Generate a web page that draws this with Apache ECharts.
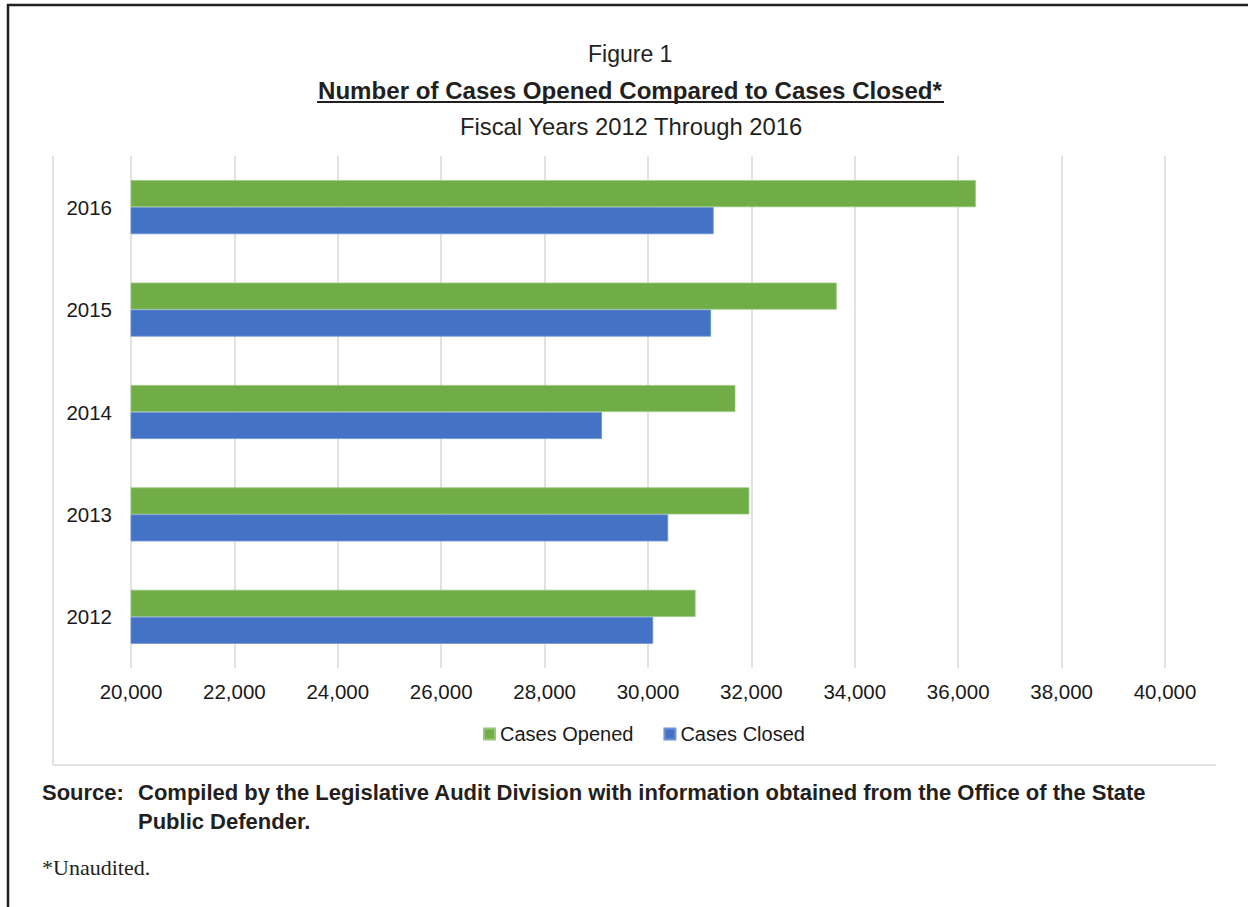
<!DOCTYPE html>
<html>
<head>
<meta charset="utf-8">
<script src="https://cdn.jsdelivr.net/npm/echarts@6/dist/echarts.min.js"></script>
<style>
html,body{margin:0;padding:0;background:#fff;}
#chart{width:1248px;height:907px;}
</style>
</head>
<body>
<div id="chart"></div>
<script>
const years = ['2012', '2013', '2014', '2015', '2016'];
const casesOpened = [30920, 31960, 31690, 33650, 36340];
const casesClosed = [30100, 30390, 29110, 31220, 31270];
const xTicks = [20000, 22000, 24000, 26000, 28000, 30000, 32000, 34000, 36000, 38000, 40000];

const SANS = '"Liberation Sans", Arial, Helvetica, sans-serif';
const chart = echarts.init(document.getElementById('chart'), null, {renderer: 'svg'});

chart.setOption({
  backgroundColor: '#ffffff',
  animation: false,
  title: [
    {text: 'Figure 1', left: 583, top: 37, textStyle: {fontFamily: SANS, fontSize: 23, fontWeight: 'normal', color: '#231f20'}},
    {text: 'Number of Cases Opened Compared to Cases Closed*', left: 313, top: 73, textStyle: {fontFamily: SANS, fontSize: 24.1, fontWeight: 'bold', color: '#231f20'}},
    {text: 'Fiscal Years 2012 Through 2016', left: 455, top: 109, textStyle: {fontFamily: SANS, fontSize: 23.8, fontWeight: 'normal', color: '#231f20'}}
  ],
  legend: {
    data: ['Cases Opened', 'Cases Closed'],
    left: 478,
    top: 719,
    itemWidth: 11,
    itemHeight: 11,
    itemGap: 30,
    icon: 'rect',
    textStyle: {fontFamily: SANS, fontSize: 20, color: '#1a1a1a'}
  },
  grid: {left: 131, right: 83, top: 156, bottom: 239, containLabel: false},
  xAxis: {
    type: 'value',
    min: 20000,
    max: 40000,
    interval: 2000,
    axisLine: {show: false},
    axisTick: {show: false},
    splitLine: {show: true, lineStyle: {color: '#d9d9d9', width: 1.5}},
    axisLabel: {
      margin: 13,
      fontFamily: SANS,
      fontSize: 20.5,
      color: '#1a1a1a',
      formatter: function (v) { return xTicks.indexOf(v) >= 0 ? v.toLocaleString('en-US') : ''; }
    }
  },
  yAxis: {
    type: 'category',
    data: years,
    axisLine: {show: false},
    axisTick: {show: false},
    splitLine: {show: false},
    axisLabel: {margin: 19, fontFamily: SANS, fontSize: 20.5, color: '#1a1a1a'}
  },
  series: [
    {
      name: 'Cases Opened', type: 'bar', data: casesOpened, barWidth: 27, barGap: '0%',
      itemStyle: {color: '#70ad47', borderColor: '#97c77a', borderWidth: 0.8}
    },
    {
      name: 'Cases Closed', type: 'bar', data: casesClosed, barWidth: 27, barGap: '0%',
      itemStyle: {color: '#4472c4', borderColor: '#6f93d6', borderWidth: 0.8}
    }
  ],
  graphic: [
    {type: 'line', shape: {x1: 8, y1: 4, x2: 8, y2: 907}, style: {stroke: '#231f20', lineWidth: 2.5}},
    {type: 'line', shape: {x1: 7, y1: 5, x2: 1248, y2: 5}, style: {stroke: '#231f20', lineWidth: 2.5}},
    {type: 'line', shape: {x1: 53, y1: 156, x2: 53, y2: 765}, style: {stroke: '#d9d9d9', lineWidth: 1.5}},
    {type: 'line', shape: {x1: 53, y1: 765, x2: 1216, y2: 765}, style: {stroke: '#d9d9d9', lineWidth: 1.5}},
    {type: 'line', shape: {x1: 317, y1: 102, x2: 944, y2: 102}, style: {stroke: '#231f20', lineWidth: 2}},
    {type: 'text', left: 42, top: 781, style: {text: 'Source:', fontFamily: SANS, fontSize: 22, fontWeight: 'bold', fill: '#231f20'}},
    {type: 'text', left: 138, top: 781, style: {text: 'Compiled by the Legislative Audit Division with information obtained from the Office of the State', fontFamily: SANS, fontSize: 22, fontWeight: 'bold', fill: '#231f20'}},
    {type: 'text', left: 138, top: 810, style: {text: 'Public Defender.', fontFamily: SANS, fontSize: 22, fontWeight: 'bold', fill: '#231f20'}},
    {type: 'text', left: 42, top: 856, style: {text: '*Unaudited.', fontFamily: '"Liberation Serif", "Times New Roman", serif', fontSize: 22, fill: '#231f20'}}
  ]
});
</script>
</body>
</html>
